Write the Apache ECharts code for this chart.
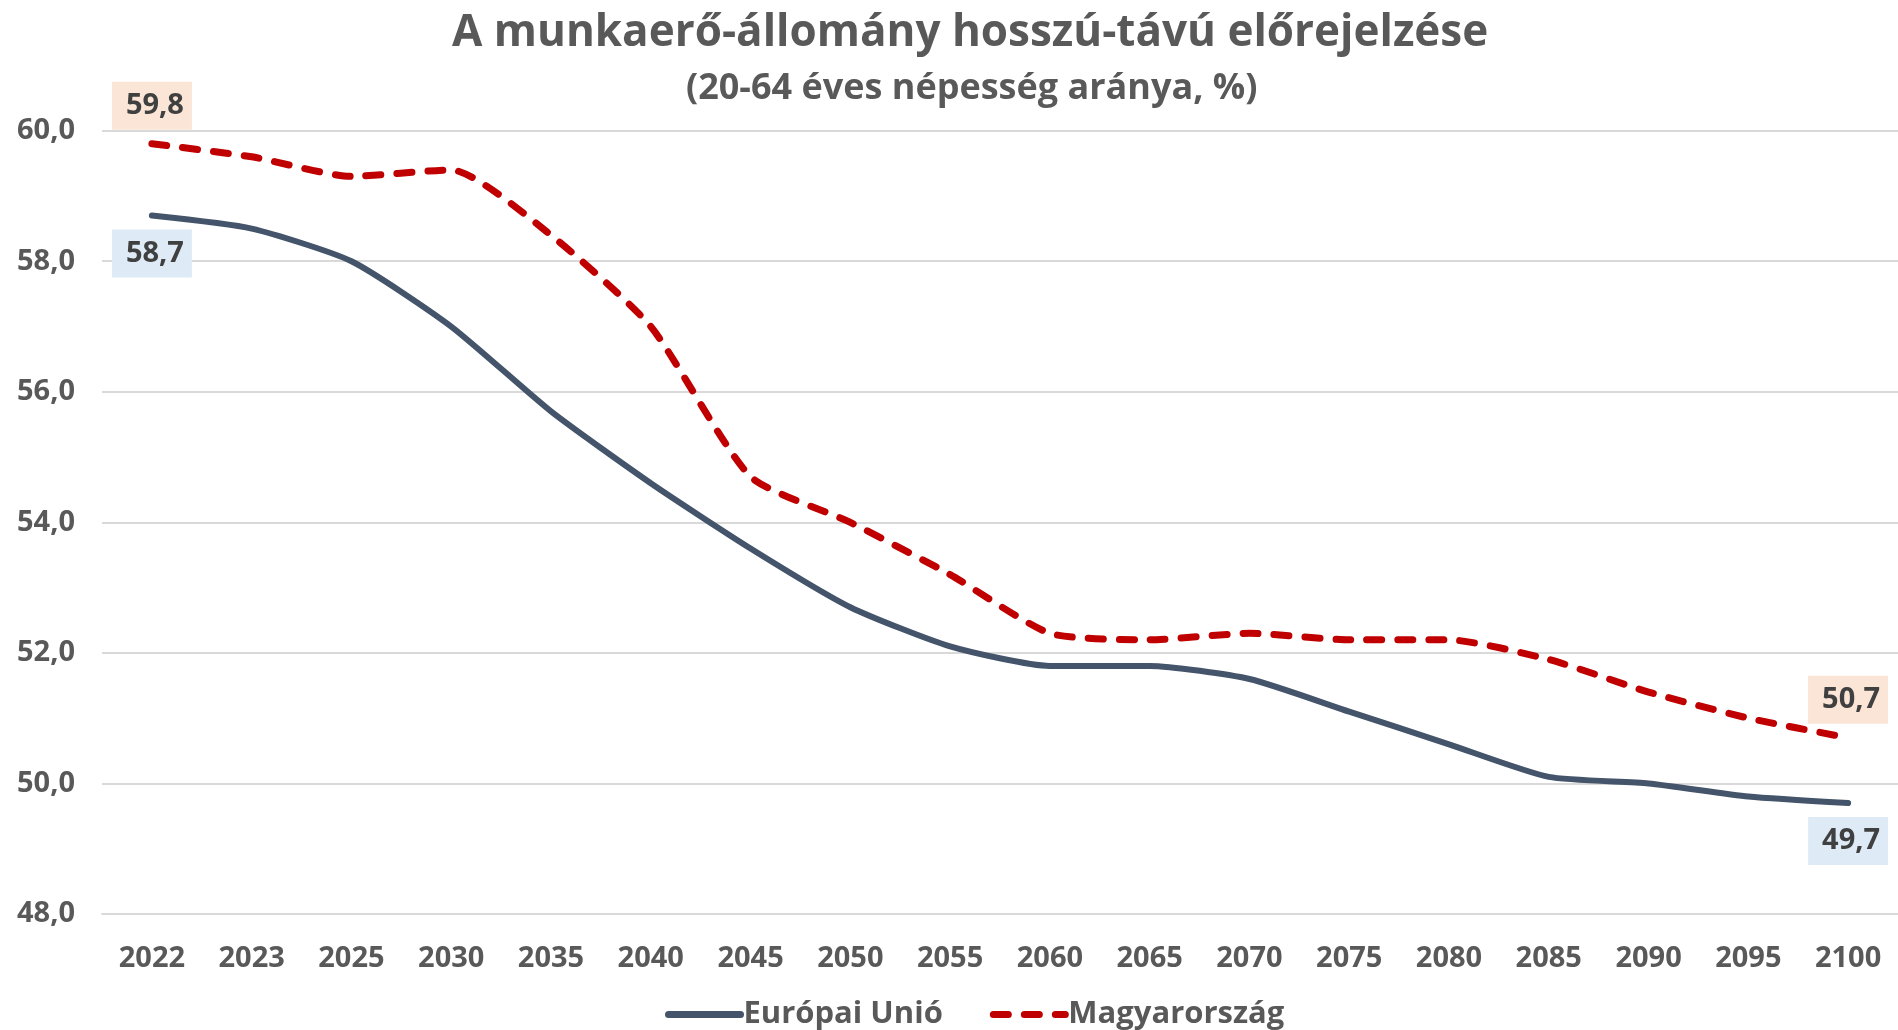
<!DOCTYPE html>
<html>
<head>
<meta charset="utf-8">
<script src="https://cdn.jsdelivr.net/npm/echarts@6/dist/echarts.min.js"></script>
<style>
html,body{margin:0;padding:0;background:#fff;}
#chart{width:1898px;height:1030px;}
</style>
</head>
<body>
<div id="chart"></div>
<script>
const years = ['2022','2023','2025','2030','2035','2040','2045','2050','2055','2060','2065','2070','2075','2080','2085','2090','2095','2100'];
const euValues = [58.7,58.5,58.0,57.0,55.7,54.6,53.6,52.7,52.1,51.8,51.8,51.6,51.1,50.6,50.1,50.0,49.8,49.7];
const huValues = [59.8,59.6,59.3,59.4,58.4,57.0,54.7,54.0,53.2,52.3,52.2,52.3,52.2,52.2,51.9,51.4,51.0,50.7];
const seriesNames = ['Európai Unió','Magyarország'];
const titleText = 'A munkaerő-állomány hosszú-távú előrejelzése';
const subtitleText = '(20-64 éves népesség aránya, %)';

const FONT = '"Open Sans", sans-serif';
const TXT = '#595959';

function fmt(v){ return v.toFixed(1).replace('.', ','); }

function withEndLabels(values, bg, pos){
  const last = values.length - 1;
  return values.map((v, i) => {
    if (i === 0 || i === last) {
      return {
        value: v,
        symbol: 'circle',
        symbolSize: 0,
        label: {
          show: true,
          position: pos,
          distance: 14,
          formatter: p => fmt(p.value),
          backgroundColor: bg,
          padding: [10, 8, 10, 14],
          color: '#404040',
          fontFamily: FONT,
          fontWeight: 'bold',
          fontSize: 29,
          lineHeight: 28
        }
      };
    }
    return v;
  });
}

const chart = echarts.init(document.getElementById('chart'));
chart.setOption({
  animation: false,
  backgroundColor: '#ffffff',
  title: [
    { text: titleText, left: 447, top: 6,
      textStyle: { fontFamily: FONT, fontWeight: 'bold', fontSize: 44, color: TXT } },
    { text: subtitleText, left: 681, top: 66,
      textStyle: { fontFamily: FONT, fontWeight: 'bold', fontSize: 36, color: TXT } }
  ],
  legend: {
    bottom: 0,
    padding: 0,
    left: 665,
    itemWidth: 72,
    itemHeight: 14,
    itemGap: 47,
    data: seriesNames,
    itemStyle: { opacity: 0 },
    lineStyle: { width: 7 },
    textStyle: { fontFamily: FONT, fontWeight: 'bold', fontSize: 31, color: TXT, padding: [0,0,0,-2] }
  },
  grid: { left: 102, right: -12, top: 130.7, bottom: 116, containLabel: false },
  xAxis: {
    type: 'category',
    data: years,
    boundaryGap: true,
    axisLine: { show: true, lineStyle: { color: '#D9D9D9', width: 2 } },
    axisTick: { show: false },
    axisLabel: { interval: 0, margin: 30, fontFamily: FONT, fontWeight: 'bold', fontSize: 29, color: TXT }
  },
  yAxis: {
    type: 'value',
    min: 48, max: 60, interval: 2,
    axisLine: { show: false },
    axisTick: { show: false },
    splitLine: { lineStyle: { color: '#D9D9D9', width: 2 } },
    axisLabel: { margin: 27, formatter: v => fmt(v), fontFamily: FONT, fontWeight: 'bold', fontSize: 29, color: TXT }
  },
  series: [
    {
      name: seriesNames[0], type: 'line', smooth: 0.2, symbol: 'none',
      data: withEndLabels(euValues, '#DEEBF7', 'bottom'),
      lineStyle: { color: '#44546A', width: 6, cap: 'round', join: 'round' },
      itemStyle: { color: '#44546A' },
      z: 3
    },
    {
      name: seriesNames[1], type: 'line', smooth: 0.2, symbol: 'none',
      data: withEndLabels(huValues, '#FBE5D6', 'top'),
      lineStyle: { color: '#C00000', width: 7, type: [15, 16], cap: 'round', join: 'round' },
      itemStyle: { color: '#C00000' },
      z: 4
    }
  ]
});
</script>
</body>
</html>
